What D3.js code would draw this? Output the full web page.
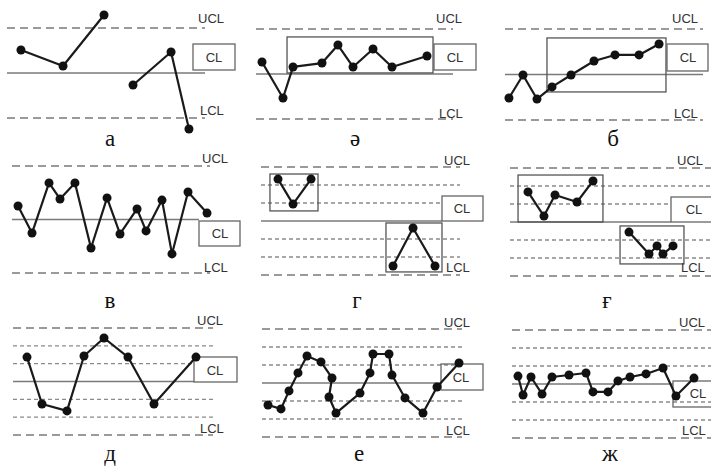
<!DOCTYPE html>
<html>
<head>
<meta charset="utf-8">
<script src="https://cdn.jsdelivr.net/npm/d3@7"></script>
<style>
  body { margin: 0; background: #fff; }
  svg { display: block; }
</style>
</head>
<body>
<script>
// x = sample position along the chart (0-20), y = value in sigma units (CL = 0, UCL = +3, LCL = -3)
// null breaks the line
const aX = [1.41, 5.66, 9.8, null, 12.73, 16.57, 18.38];
const aY = [1.53, 0.47, 3.87, null, -0.8, 1.4, -3.73];

const schwaX = [0.61, 2.74, 3.76, 6.7, 8.32, 9.85, 11.88, 13.81, 17.36];
const schwaY = [0.8, -1.6, 0.47, 0.73, 1.93, 0.47, 1.67, 0.47, 1.2];

const bX = [0.4, 1.82, 3.23, 4.75, 6.67, 8.99, 11.11, 13.54, 15.56];
const bY = [-1.55, -0.03, -1.62, -0.82, -0.03, 0.89, 1.29, 1.29, 2.01];

const vX = [0.61, 2.02, 3.74, 4.85, 6.36, 7.98, 9.6, 10.91, 12.63, 13.54, 15.15, 16.16, 17.78, 19.7];
const vY = [0.76, -0.76, 2.05, 1.15, 2.05, -1.6, 1.21, -0.81, 0.59, -0.64, 1.09, -1.93, 1.54, 0.36];

const gX = [1.71, 3.22, 5.03, null, 13.27, 15.28, 17.49];
const gY = [2.33, 0.94, 2.33, null, -2.5, -0.39, -2.5];

const ghX = [1.79, 3.38, 4.48, 6.67, 8.26, null, 11.84, 13.83, 14.63, 15.22, 16.22];
const ghY = [1.67, 0.33, 1.5, 1.11, 2.28, null, -0.56, -1.78, -1.33, -1.78, -1.33];

const dX = [1.4, 2.9, 5.4, 7.1, 9.1, 11.5, 14.1, 18.3];
const dY = [1.37, -1.26, -1.65, 1.43, 2.44, 1.37, -1.26, 1.37];

const eX = [0.6, 1.9, 2.7, 3.6, 4.5, 5.9, 7.0, 6.7, 7.4, 9.8, 10.8, 11.1, 12.7, 13.0, 14.3, 16.1, 17.5, 19.7];
const eY = [-1.22, -1.44, -0.44, 0.56, 1.5, 1.17, 0.28, -0.78, -1.67, -0.56, 0.56, 1.61, 1.61, 0.44, -0.83, -1.67, -0.22, 1.11];

const zhX = [0.6, 1.11, 1.91, 3.02, 4.02, 5.73, 7.44, 8.14, 9.65, 10.65, 11.86, 13.47, 15.18, 16.48, 18.29];
const zhY = [0.44, -0.61, 0.39, -0.56, 0.39, 0.5, 0.61, -0.44, -0.44, 0.17, 0.39, 0.56, 0.89, -0.67, 0.33];

// highlight frames: [x from, x to, sigma top, sigma bottom]
const schwaBoxes = [[3.15, 17.97, 2.47, 0.07]];
const bBoxes = [[4.24, 16.26, 2.41, -1.15]];
const gBoxes = [[0.9, 5.73, 2.61, 0.56], [12.56, 18.19, -0.11, -2.83]];
const ghBoxes = [[0.8, 9.25, 2.61, 0], [10.95, 17.31, -0.22, -2.33]];

const panelNames = ["а", "ә", "б", "в", "г", "ғ", "д", "е", "ж"];
const limitNames = ["UCL", "CL", "LCL"];
const zoneLevels = [2, 1, -1, -2];

const panels = [
  { x: aX, y: aY, boxes: [], zones: false },
  { x: schwaX, y: schwaY, boxes: schwaBoxes, zones: false },
  { x: bX, y: bY, boxes: bBoxes, zones: false },
  { x: vX, y: vY, boxes: [], zones: false },
  { x: gX, y: gY, boxes: gBoxes, zones: true },
  { x: ghX, y: ghY, boxes: ghBoxes, zones: true },
  { x: dX, y: dY, boxes: [], zones: true },
  { x: eX, y: eY, boxes: [], zones: true },
  { x: zhX, y: zhY, boxes: [], zones: true },
];

// where each small chart sits
const layout = [
  { x0: 7, x1: 205, ucl: 28, lcl: 118, clEnd: 205, clBox: [193, 44, 235, 70], uclT: [198, 18], lclT: [200, 110], clT: [214, 57], label: [110, 146] },
  { x0: 256, x1: 453, ucl: 29, lcl: 119, clEnd: 453, clBox: [434, 44, 476, 70], uclT: [436, 18], lclT: [439, 113], clT: [455, 57], label: [355, 146] },
  { x0: 505, x1: 703, ucl: 29, lcl: 120, clEnd: 703, clBox: [667, 44, 708, 71], uclT: [672, 18], lclT: [674, 113], clT: [688, 57], label: [613, 146] },
  { x0: 12, x1: 210, ucl: 166, lcl: 273, clEnd: 199, clBox: [199, 221, 240, 246], uclT: [202, 158], lclT: [204, 267], clT: [220, 233], label: [110, 308] },
  { x0: 261, x1: 460, ucl: 167, lcl: 275, clEnd: 442, clBox: [442, 196, 483, 221], uclT: [444, 160], lclT: [446, 267], clT: [462, 208], label: [357, 308] },
  { x0: 510, x1: 711, ucl: 168, lcl: 276, clEnd: 671, clBox: [671, 197, 716, 222], uclT: [677, 160], lclT: [681, 267], clT: [694, 209], label: [607, 308] },
  { x0: 13, x1: 213, ucl: 328, lcl: 435, clEnd: 194, clBox: [194, 357, 237, 382], uclT: [197, 320], lclT: [200, 428], clT: [215, 370], label: [110, 461] },
  { x0: 262, x1: 462, ucl: 329, lcl: 437, clEnd: 441, clBox: [441, 364, 483, 390], uclT: [444, 322], lclT: [446, 430], clT: [461, 377], label: [359, 461] },
  { x0: 512, x1: 711, ucl: 330, lcl: 438, clEnd: 673, clBox: [673, 381, 716, 407], uclT: [679, 322], lclT: [682, 430], clT: [698, 393], label: [610, 461] },
];

const width = 711;
const height = 468;

const svg = d3
  .select("body")
  .append("svg")
  .attr("width", width)
  .attr("height", height);

const sansFont = "'Liberation Sans', Arial, sans-serif";
const serifFont = "'Liberation Serif', 'Times New Roman', serif";

panels.forEach((p, i) => {
  const L = layout[i];
  const g = svg.append("g");

  const xScale = d3.scaleLinear().domain([0, 20]).range([L.x0, L.x1]);
  const yScale = d3.scaleLinear().domain([-3, 3]).range([L.lcl, L.ucl]);

  // zone lines at +-1 and +-2 sigma
  if (p.zones) {
    g.selectAll(".zone")
      .data(zoneLevels)
      .join("line")
      .attr("class", "zone")
      .attr("x1", xScale(0))
      .attr("x2", xScale(20))
      .attr("y1", (d) => yScale(d))
      .attr("y2", (d) => yScale(d))
      .attr("stroke", "#8a8a8a")
      .attr("stroke-width", 1.4)
      .attr("stroke-dasharray", "4,3");
  }

  // control limits
  g.selectAll(".limit")
    .data([3, -3])
    .join("line")
    .attr("class", "limit")
    .attr("x1", xScale(0))
    .attr("x2", xScale(20))
    .attr("y1", (d) => yScale(d))
    .attr("y2", (d) => yScale(d))
    .attr("stroke", "#7a7a7a")
    .attr("stroke-width", 1.5)
    .attr("stroke-dasharray", "8,5");

  g.append("line")
    .attr("x1", xScale(0))
    .attr("x2", L.clEnd)
    .attr("y1", yScale(0))
    .attr("y2", yScale(0))
    .attr("stroke", "#7a7a7a")
    .attr("stroke-width", 1.5);

  // highlight frames
  g.selectAll(".frame")
    .data(p.boxes)
    .join("rect")
    .attr("class", "frame")
    .attr("x", (d) => xScale(d[0]))
    .attr("y", (d) => yScale(d[2]))
    .attr("width", (d) => xScale(d[1]) - xScale(d[0]))
    .attr("height", (d) => yScale(d[3]) - yScale(d[2]))
    .attr("fill", "none")
    .attr("stroke", "#555")
    .attr("stroke-width", 1.3);

  // CL label box
  g.append("rect")
    .attr("x", L.clBox[0])
    .attr("y", L.clBox[1])
    .attr("width", L.clBox[2] - L.clBox[0])
    .attr("height", L.clBox[3] - L.clBox[1])
    .attr("fill", i === 7 || i === 8 ? "none" : "#fff")
    .attr("stroke", "#666")
    .attr("stroke-width", 1.3);

  const labelPos = [L.uclT, L.clT, L.lclT];
  g.selectAll(".lim-label")
    .data(limitNames)
    .join("text")
    .attr("class", "lim-label")
    .attr("x", (d, k) => labelPos[k][0])
    .attr("y", (d, k) => labelPos[k][1] + 4.7)
    .attr("text-anchor", (d) => (d === "CL" ? "middle" : "start"))
    .attr("font-family", sansFont)
    .attr("font-size", "13px")
    .attr("fill", "#333")
    .text((d) => d);

  // the series
  const pts = p.x.map((x, k) => [x, p.y[k]]);
  const line = d3
    .line()
    .defined((d) => d[0] != null && d[1] != null)
    .x((d) => xScale(d[0]))
    .y((d) => yScale(d[1]));

  g.append("path")
    .datum(pts)
    .attr("d", line)
    .attr("fill", "none")
    .attr("stroke", "#1a1a1a")
    .attr("stroke-width", 2.2)
    .attr("stroke-linejoin", "round");

  g.selectAll(".dot")
    .data(pts.filter((d) => d[0] != null))
    .join("circle")
    .attr("class", "dot")
    .attr("cx", (d) => xScale(d[0]))
    .attr("cy", (d) => yScale(d[1]))
    .attr("r", 4.5)
    .attr("fill", "#111");

  g.append("text")
    .attr("x", L.label[0])
    .attr("y", L.label[1])
    .attr("text-anchor", "middle")
    .attr("font-family", serifFont)
    .attr("font-size", "23px")
    .attr("fill", "#111")
    .text(panelNames[i]);
});
</script>
</body>
</html>
